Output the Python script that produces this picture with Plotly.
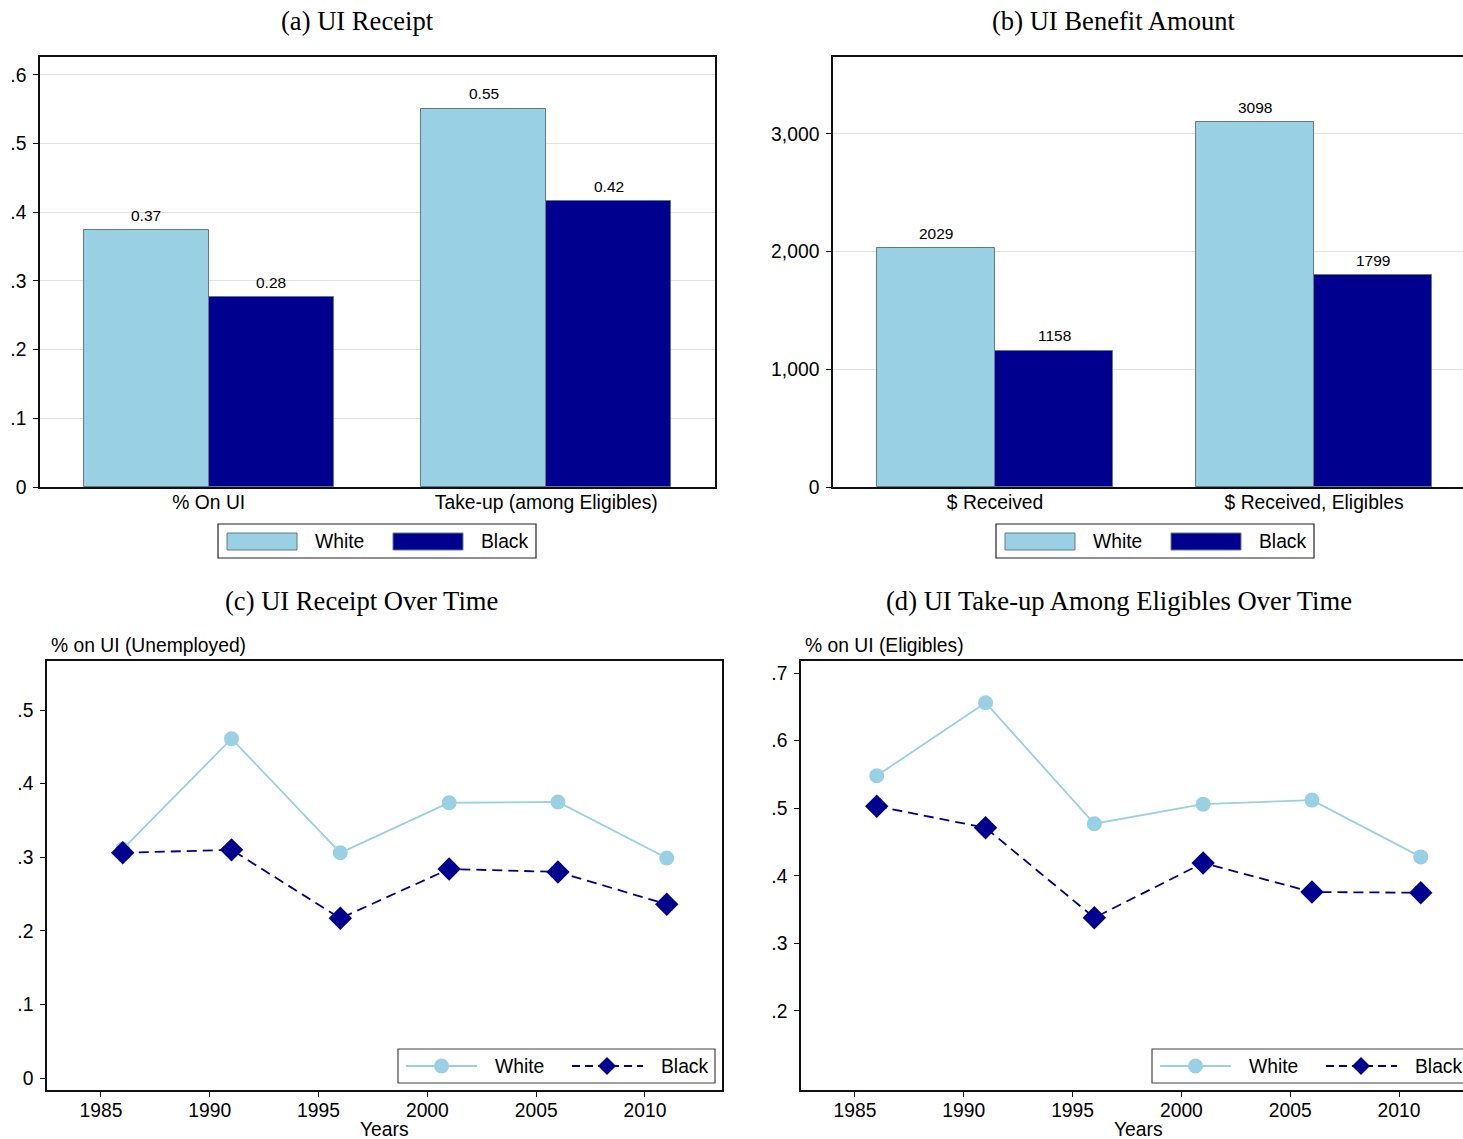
import plotly.graph_objects as go

REFW, REFH = 1463, 1139
W, H = 1463, 1150

# ---------------- data ----------------
cats_a = ["% On UI", "Take-up (among Eligibles)"]
white_a = [0.374, 0.551]
black_a = [0.276, 0.416]

cats_b = ["$ Received", "$ Received, Eligibles"]
white_b = [2029, 3098]
black_b = [1158, 1799]

years = [1986, 1991, 1996, 2001, 2006, 2011]
white_c = [0.311, 0.461, 0.306, 0.374, 0.375, 0.299]
black_c = [0.306, 0.310, 0.217, 0.284, 0.280, 0.236]
white_d = [0.548, 0.656, 0.477, 0.506, 0.512, 0.428]
black_d = [0.503, 0.471, 0.338, 0.419, 0.376, 0.375]

ticks_a = [0, 0.1, 0.2, 0.3, 0.4, 0.5, 0.6]
ticktext_a = ["0", ".1", ".2", ".3", ".4", ".5", ".6"]
ticks_b = [0, 1000, 2000, 3000]
ticktext_b = ["0", "1,000", "2,000", "3,000"]
ticks_c = [0, 0.1, 0.2, 0.3, 0.4, 0.5]
ticktext_c = ["0", ".1", ".2", ".3", ".4", ".5"]
ticks_d = [0.2, 0.3, 0.4, 0.5, 0.6, 0.7]
ticktext_d = [".2", ".3", ".4", ".5", ".6", ".7"]
year_ticks = [1985, 1990, 1995, 2000, 2005, 2010]

LIGHT = "#99d0e3"
NAVY = "#00008f"
OUTLINE = "#5f7a88"
SANS = "Liberation Sans, Arial, sans-serif"
SERIF = "Liberation Serif, Times New Roman, serif"
FS = 19.3

def px(x):
    return x / REFW

def py(y):
    return 1 - y / REFH

fig = go.Figure()

BW = 0.37
fig.add_trace(go.Bar(x=[0, 1], y=white_a, width=BW, offset=-BW, marker=dict(color=LIGHT, line=dict(color=OUTLINE, width=1)),
                     xaxis="x", yaxis="y", showlegend=False))
fig.add_trace(go.Bar(x=[0, 1], y=black_a, width=BW, offset=0, marker=dict(color=NAVY, line=dict(color=OUTLINE, width=1)),
                     xaxis="x", yaxis="y", showlegend=False))
fig.add_trace(go.Bar(x=[0, 1], y=white_b, width=BW, offset=-BW, marker=dict(color=LIGHT, line=dict(color=OUTLINE, width=1)),
                     xaxis="x2", yaxis="y2", showlegend=False))
fig.add_trace(go.Bar(x=[0, 1], y=black_b, width=BW, offset=0, marker=dict(color=NAVY, line=dict(color=OUTLINE, width=1)),
                     xaxis="x2", yaxis="y2", showlegend=False))
fig.add_trace(go.Scatter(x=years, y=white_c, mode="lines+markers", line=dict(color=LIGHT, width=1.8),
                         marker=dict(symbol="circle", size=15, color=LIGHT), xaxis="x3", yaxis="y3", showlegend=False))
fig.add_trace(go.Scatter(x=years, y=black_c, mode="lines+markers", line=dict(color=NAVY, width=1.8, dash="10px,6px"),
                         marker=dict(symbol="diamond", size=18, color=NAVY), xaxis="x3", yaxis="y3", showlegend=False))
fig.add_trace(go.Scatter(x=years, y=white_d, mode="lines+markers", line=dict(color=LIGHT, width=1.8),
                         marker=dict(symbol="circle", size=15, color=LIGHT), xaxis="x4", yaxis="y4", showlegend=False))
fig.add_trace(go.Scatter(x=years, y=black_d, mode="lines+markers", line=dict(color=NAVY, width=1.8, dash="10px,6px"),
                         marker=dict(symbol="diamond", size=18, color=NAVY), xaxis="x4", yaxis="y4", showlegend=False))

tickfont = dict(family=SANS, size=FS, color="black")
AXC = "#111111"

common_y = dict(showline=True, linecolor=AXC, linewidth=1.5, ticks="outside", ticklen=5, tickcolor=AXC,
                tickwidth=1.2, tickfont=tickfont, zeroline=False, ticklabelstandoff=3)

fig.update_layout(
    width=W, height=H, margin=dict(l=0, r=0, t=0, b=0),
    paper_bgcolor="white", plot_bgcolor="white",
    bargap=0, barmode="overlay",
    xaxis=dict(domain=[px(40), px(715)], range=[-0.5, 1.5], tickvals=[0, 1], ticktext=cats_a, ticks="",
               showline=True, linecolor=AXC, linewidth=1.5, mirror=True, tickfont=tickfont, anchor="y",
               showgrid=False, zeroline=False, ticklabelstandoff=-3),
    yaxis=dict(domain=[py(487), py(57)], range=[0, 0.626], tickvals=ticks_a, ticktext=ticktext_a,
               showgrid=True, gridcolor="#e2e2e2", gridwidth=1, mirror=True, anchor="x", **common_y),
    xaxis2=dict(domain=[px(833), 1.0], range=[-0.508, 1.467], tickvals=[0, 1], ticktext=cats_b, ticks="",
                showline=True, linecolor=AXC, linewidth=1.5, mirror=True, tickfont=tickfont, anchor="y2",
                showgrid=False, zeroline=False, ticklabelstandoff=-3),
    yaxis2=dict(domain=[py(487), py(57)], range=[0, 3654], tickvals=ticks_b, ticktext=ticktext_b,
                showgrid=True, gridcolor="#e2e2e2", gridwidth=1, anchor="x2", **common_y),
    xaxis3=dict(domain=[px(47), px(722)], range=[1982.52, 2013.54], tickvals=year_ticks,
                showline=True, linecolor=AXC, linewidth=1.5, mirror=True, ticks="outside", ticklen=5,
                tickcolor=AXC, tickwidth=1.2, tickfont=tickfont, anchor="y3", showgrid=False, zeroline=False,
                ticklabelstandoff=-3),
    yaxis3=dict(domain=[py(1090), py(661)], range=[-0.0163, 0.5666], tickvals=ticks_c, ticktext=ticktext_c,
                showgrid=False, mirror=True, anchor="x3", **common_y),
    xaxis4=dict(domain=[px(801), 1.0], range=[1982.52, 2012.94], tickvals=year_ticks,
                showline=True, linecolor=AXC, linewidth=1.5, mirror=True, ticks="outside", ticklen=5,
                tickcolor=AXC, tickwidth=1.2, tickfont=tickfont, anchor="y4", showgrid=False, zeroline=False,
                ticklabelstandoff=-3),
    yaxis4=dict(domain=[py(1090), py(661)], range=[0.0831, 0.7178], tickvals=ticks_d, ticktext=ticktext_d,
                showgrid=False, anchor="x4", **common_y),
)

ann = []
lblfont = dict(family=SANS, size=15.5, color="black")
for i in range(2):
    ann.append(dict(x=i - BW / 2, y=white_a[i], xref="x", yref="y", text="{:.2f}".format(white_a[i]), showarrow=False,
                    yshift=15, font=lblfont))
    ann.append(dict(x=i + BW / 2, y=black_a[i], xref="x", yref="y", text="{:.2f}".format(black_a[i]), showarrow=False,
                    yshift=15, font=lblfont))
    ann.append(dict(x=i - BW / 2, y=white_b[i], xref="x2", yref="y2", text="{:.0f}".format(white_b[i]), showarrow=False,
                    yshift=15, font=lblfont))
    ann.append(dict(x=i + BW / 2, y=black_b[i], xref="x2", yref="y2", text="{:.0f}".format(black_b[i]), showarrow=False,
                    yshift=15, font=lblfont))

titles = [("(a) UI Receipt", 357, 21), ("(b) UI Benefit Amount", 1114, 21),
          ("(c) UI Receipt Over Time", 361, 601), ("(d) UI Take-up Among Eligibles Over Time", 1119, 601)]
for t, x, y in titles:
    ann.append(dict(x=px(x), y=py(y), xref="paper", yref="paper", text=t, showarrow=False,
                    xanchor="center", yanchor="middle", font=dict(family=SERIF, size=26.6, color="black")))

axfont = dict(family=SANS, size=FS, color="black")
ann.append(dict(x=px(49), y=py(645), xref="paper", yref="paper", text="% on UI (Unemployed)", showarrow=False,
                xanchor="left", yanchor="middle", font=axfont))
ann.append(dict(x=px(803), y=py(645), xref="paper", yref="paper", text="% on UI (Eligibles)", showarrow=False,
                xanchor="left", yanchor="middle", font=axfont))
ann.append(dict(x=px(384), y=py(1129), xref="paper", yref="paper", text="Years", showarrow=False,
                xanchor="center", yanchor="middle", font=axfont))
ann.append(dict(x=px(1138), y=py(1129), xref="paper", yref="paper", text="Years", showarrow=False,
                xanchor="center", yanchor="middle", font=axfont))

shapes = []

def rect(x0, y0, x1, y1, fill, line, lw):
    shapes.append(dict(type="rect", xref="paper", yref="paper", x0=px(x0), x1=px(x1), y0=py(y1), y1=py(y0),
                       fillcolor=fill, line=dict(color=line, width=lw)))

def text(x, y, t):
    ann.append(dict(x=px(x), y=py(y), xref="paper", yref="paper", text=t, showarrow=False,
                    xanchor="left", yanchor="middle", font=axfont))

for bx in [218, 996]:
    rect(bx, 524, bx + 318, 558, "white", "#222222", 1.2)
    rect(bx + 9, 533, bx + 79, 550, LIGHT, OUTLINE, 1)
    text(bx + 95, 541, "White")
    rect(bx + 175, 533, bx + 245, 550, NAVY, OUTLINE, 1)
    text(bx + 261, 541, "Black")

for lx in [398, 1152]:
    rect(lx, 1049, lx + 317, 1083, "white", "#444444", 1.2)
    ly = 1066
    shapes.append(dict(type="line", xref="paper", yref="paper", x0=px(lx + 8), x1=px(lx + 79), y0=py(ly), y1=py(ly),
                       line=dict(color=LIGHT, width=1.8)))
    shapes.append(dict(type="circle", xref="paper", yref="paper", x0=px(lx + 36), x1=px(lx + 51),
                       y0=py(ly + 7.5), y1=py(ly - 7.5), fillcolor=LIGHT, line=dict(color=LIGHT, width=0)))
    text(lx + 95, ly, "White")
    shapes.append(dict(type="line", xref="paper", yref="paper", x0=px(lx + 174), x1=px(lx + 245), y0=py(ly), y1=py(ly),
                       line=dict(color=NAVY, width=1.8, dash="8px,5px")))
    cx = lx + 209
    path = "M {} {} L {} {} L {} {} L {} {} Z".format(px(cx), py(ly - 9), px(cx + 9), py(ly), px(cx), py(ly + 9),
                                                        px(cx - 9), py(ly))
    shapes.append(dict(type="path", xref="paper", yref="paper", path=path, fillcolor=NAVY, line=dict(color=NAVY, width=0)))
    text(lx + 261, ly, "Black")

fig.update_layout(annotations=ann, shapes=shapes)
fig.write_html("out.html", config={"displayModeBar": False},
               post_script="document.body.style.margin='0';document.body.style.overflow='hidden';"
                           "document.documentElement.style.overflow='hidden';")
